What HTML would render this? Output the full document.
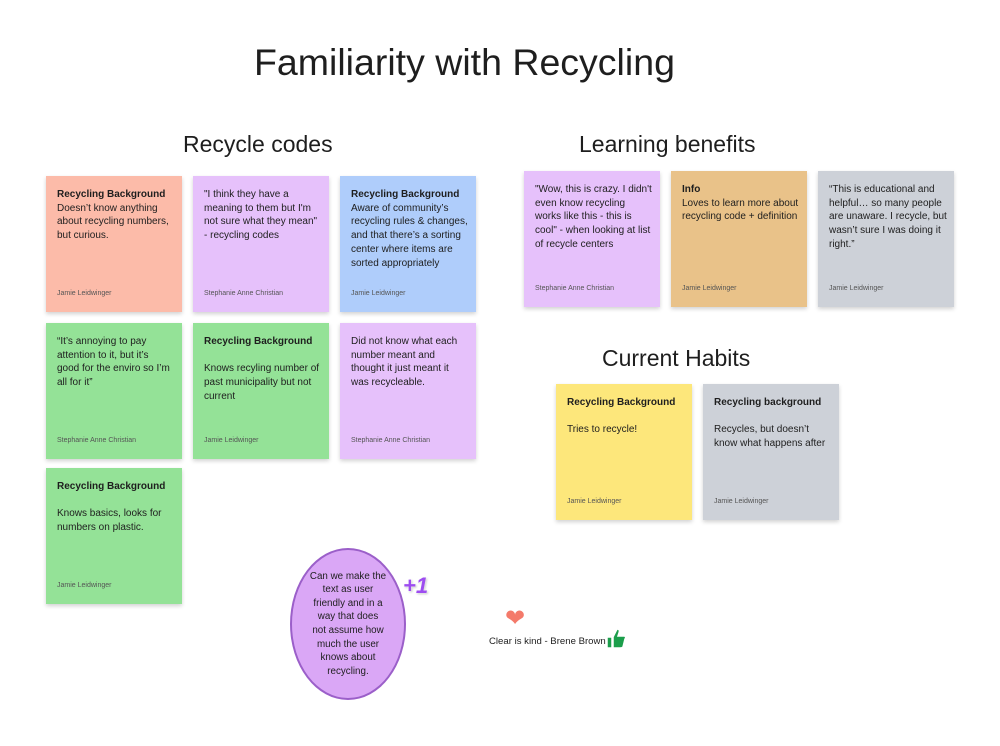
<!DOCTYPE html>
<html><head><style>
body{margin:0;width:1000px;height:746px;background:#fff;position:relative;font-family:"Liberation Sans",sans-serif;color:#1e1e1e;overflow:hidden}
.h{position:absolute;font-size:23px;white-space:nowrap}
.s{position:absolute;width:136px;height:136px;box-shadow:0 2px 4px rgba(0,0,0,.18);box-sizing:border-box;padding:12px 0 0 11px;font-size:10px;line-height:13.7px;white-space:nowrap;overflow:hidden}
.s b{font-weight:bold}
.a{position:absolute;left:11px;bottom:11px;font-size:7px;color:#555}
.r{background:#fcbba9}.p{background:#e6c1fb}.bl{background:#afcdfb}.g{background:#94e297}.o{background:#e9c289}.gr{background:#cdd1d8}.y{background:#fde77b}
</style></head><body>
<div class="h" style="left:254px;top:41px;font-size:37.5px">Familiarity with Recycling</div>
<div class="h" style="left:183px;top:131px">Recycle codes</div>
<div class="h" style="left:579px;top:131px">Learning benefits</div>
<div class="h" style="left:602px;top:345px">Current Habits</div>

<div class="s r" style="left:46px;top:176px"><b>Recycling Background</b><br>Doesn’t know anything<br>about recycling numbers,<br>but curious.<div class="a">Jamie Leidwinger</div></div>
<div class="s p" style="left:193px;top:176px">"I think they have a<br>meaning to them but I'm<br>not sure what they mean"<br>- recycling codes<div class="a">Stephanie Anne Christian</div></div>
<div class="s bl" style="left:340px;top:176px"><b>Recycling Background</b><br>Aware of community’s<br>recycling rules &amp; changes,<br>and that there’s a sorting<br>center where items are<br>sorted appropriately<div class="a">Jamie Leidwinger</div></div>
<div class="s g" style="left:46px;top:323px">“It’s annoying to pay<br>attention to it, but it’s<br>good for the enviro so I’m<br>all for it”<div class="a">Stephanie Anne Christian</div></div>
<div class="s g" style="left:193px;top:323px"><b>Recycling Background</b><br><br>Knows recyling number of<br>past municipality but not<br>current<div class="a">Jamie Leidwinger</div></div>
<div class="s p" style="left:340px;top:323px">Did not know what each<br>number meant and<br>thought it just meant it<br>was recycleable.<div class="a">Stephanie Anne Christian</div></div>
<div class="s g" style="left:46px;top:468px"><b>Recycling Background</b><br><br>Knows basics, looks for<br>numbers on plastic.<div class="a">Jamie Leidwinger</div></div>

<div class="s p" style="left:524px;top:171px">"Wow, this is crazy. I didn't<br>even know recycling<br>works like this - this is<br>cool" - when looking at list<br>of recycle centers<div class="a">Stephanie Anne Christian</div></div>
<div class="s o" style="left:671px;top:171px"><b>Info</b><br>Loves to learn more about<br>recycling code + definition<div class="a">Jamie Leidwinger</div></div>
<div class="s gr" style="left:818px;top:171px">“This is educational and<br>helpful… so many people<br>are unaware. I recycle, but<br>wasn’t sure I was doing it<br>right.”<div class="a">Jamie Leidwinger</div></div>

<div class="s y" style="left:556px;top:384px"><b>Recycling Background</b><br><br>Tries to recycle!<div class="a">Jamie Leidwinger</div></div>
<div class="s gr" style="left:703px;top:384px"><b>Recycling background</b><br><br>Recycles, but doesn’t<br>know what happens after<div class="a">Jamie Leidwinger</div></div>

<div style="position:absolute;left:290px;top:548px;width:116px;height:152px;box-sizing:border-box;border:2px solid #9b5fc9;border-radius:50%;background:#daa7f6;display:flex;align-items:center;justify-content:center;text-align:center;font-size:9.8px;line-height:13.6px;white-space:nowrap">Can we make the<br>text as user<br>friendly and in a<br>way that does<br>not assume how<br>much the user<br>knows about<br>recycling.</div>
<div style="position:absolute;left:403px;top:573px;font-size:22px;font-weight:bold;color:#9d4df0;font-style:italic;text-shadow:0 0 2px #fff,1px 1px 2px #bbb">+1</div>
<div style="position:absolute;left:505px;top:607px;font-size:24px;color:#f47a6a;line-height:24px">&#10084;</div>
<div style="position:absolute;left:489px;top:636px;font-size:9.6px">Clear is kind - Brene Brown</div>
<svg style="position:absolute;left:604px;top:626px" width="24" height="24" viewBox="0 0 24 24"><path d="M3 11h5v11H3z M9 11l4-8c2 0 3 1 2 4l-1 3h6c2 0 2 2 1 3l-2 8c-1 1-2 1-3 1H9z" fill="#1b9e4b" stroke="#fff" stroke-width="1.5"/></svg>
</body></html>
